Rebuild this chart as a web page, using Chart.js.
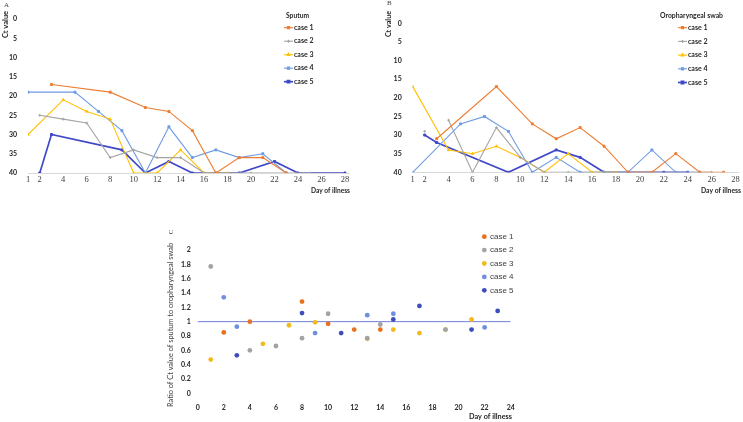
<!DOCTYPE html>
<html>
<head>
<meta charset="utf-8">
<script src="https://cdn.jsdelivr.net/npm/chart.js@4.4.0/dist/chart.umd.min.js"></script>
<style>
  html, body { margin: 0; padding: 0; background: #fff; }
  #wrap { position: relative; width: 743px; height: 422px; overflow: hidden; }
  canvas { position: absolute; left: 0; top: 0; }
</style>
</head>
<body>
<div id="wrap">
  <canvas id="chartA" width="743" height="422"></canvas>
  <canvas id="chartB" width="743" height="422"></canvas>
  <canvas id="chartC" width="743" height="422"></canvas>
</div>
<script>
// ---- data ----
var caseNames = ['case 1', 'case 2', 'case 3', 'case 4', 'case 5'];
var dayTicks = [1, 2, 4, 6, 8, 10, 12, 14, 16, 18, 20, 22, 24, 26, 28];
var ctTicks = [0, 5, 10, 15, 20, 25, 30, 35, 40];
var ratioDayTicks = [0, 2, 4, 6, 8, 10, 12, 14, 16, 18, 20, 22, 24];
var ratioTicks = [0, 0.2, 0.4, 0.6, 0.8, 1, 1.2, 1.4, 1.6, 1.8, 2];

// sputum Ct values
var spDays1 = [3, 8, 11, 13, 15, 17, 19, 21, 23];
var spCt1 = [17, 19, 23, 24, 29, 40, 36, 36, 40];
var spDays2 = [2, 4, 6, 8, 10, 12, 14, 16, 20, 25];
var spCt2 = [25, 26, 27, 36, 34, 36, 36, 40, 40, 40];
var spDays3 = [1, 4, 6, 8, 10, 12, 14, 16, 18];
var spCt3 = [30, 21, 24, 26, 40, 40, 34, 40, 40];
var spDays4 = [1, 5, 7, 9, 11, 13, 15, 17, 19, 21, 23];
var spCt4 = [19, 19, 24, 29, 40, 28, 36, 34, 36, 35, 40];
var spDays5 = [2, 3, 9, 11, 13, 15, 17, 19, 22, 24, 28];
var spCt5 = [40, 30, 34, 40, 37, 40, 40, 40, 37, 40, 40];

// oropharyngeal swab Ct values
var opDays1 = [3, 8, 11, 13, 15, 17, 19, 21, 23, 25, 27];
var opCt1 = [31, 17, 27, 31, 28, 33, 40, 40, 35, 40, 40];
var opDays2 = [2, 3, 4, 6, 8, 10, 12, 14, 20, 26];
var opCt2 = [29, null, 26, 40, 28, 36, 40, 40, 40, 40];
var opDays3 = [1, 4, 6, 8, 10, 12, 14, 16, 18];
var opCt3 = [17, 34, 35, 33, 36, 40, 35, 40, 40];
var opDays4 = [1, 5, 7, 9, 11, 13, 15, 17, 19, 21, 23, 25];
var opCt4 = [40, 27, 25, 29, 40, 36, 40, 40, 40, 34, 40, 40];
var opDays5 = [2, 3, 9, 13, 15, 17, 19, 22, 24];
var opCt5 = [30, 32, 40, 34, 36, 40, 40, 40, 40];

// ratio sputum / oropharyngeal
var rDays1 = [2, 4, 8, 10, 12, 14];
var rVal1 = [0.85, 1.0, 1.28, 0.97, 0.89, 0.89];
var rDays2 = [1, 4, 6, 8, 10, 13, 14, 19];
var rVal2 = [1.77, 0.6, 0.66, 0.77, 1.11, 0.77, 0.96, 0.89];
var rDays3 = [1, 5, 7, 9, 13, 15, 17, 19, 21];
var rVal3 = [0.47, 0.69, 0.95, 0.99, 0.76, 0.89, 0.84, 0.89, 1.03];
var rDays4 = [2, 3, 9, 13, 15, 22];
var rVal4 = [1.34, 0.93, 0.84, 1.09, 1.11, 0.92];
var rDays5 = [3, 8, 11, 15, 17, 21, 23];
var rVal5 = [0.53, 1.12, 0.84, 1.03, 1.22, 0.89, 1.15];
var refDays = [0, 24];
var refVal = [1, 1];

// ---- styles ----
var lineColors = ['#ED7D31', '#A5A5A5', '#FFC000', '#6F9BE3', '#4149C8'];
var dotColors = ['#E8701F', '#A3A3A3', '#F2B91B', '#6F8FE0', '#3F4DBA'];
var markers = ['rect', 'cross', 'triangle', 'rect', 'rect'];
var W = 743, H = 422;

function pts(xs, ys) {
  return xs.map(function (x, i) { return { x: x, y: ys[i] }; });
}

// free text (panel letters, axis titles)
var notesPlugin = {
  id: 'notes',
  afterDraw: function (chart, args, opts) {
    var ctx = chart.ctx;
    (opts.items || []).forEach(function (t) {
      ctx.save();
      ctx.font = t.font;
      ctx.fillStyle = t.color || '#262626';
      ctx.textAlign = t.align || 'left';
      ctx.textBaseline = 'middle';
      ctx.translate(t.x, t.y);
      if (t.rotate) ctx.rotate(t.rotate);
      if (t.maxWidth) ctx.fillText(t.text, 0, 0, t.maxWidth);
      else ctx.fillText(t.text, 0, 0);
      ctx.restore();
    });
  }
};

// legend drawn from the datasets
var caseLegend = {
  id: 'caseLegend',
  afterDraw: function (chart, args, o) {
    if (o.x === undefined) return;
    var ctx = chart.ctx;
    ctx.save();
    ctx.textBaseline = 'middle';
    ctx.textAlign = 'left';
    if (o.title) {
      ctx.font = o.titleFont;
      ctx.fillStyle = '#262626';
      ctx.fillText(o.title, o.titleX, o.titleY, o.titleWidth);
    }
    var n = 0;
    chart.data.datasets.forEach(function (ds) {
      if (!ds.label) return;
      var y = o.y + n * o.gap;
      n++;
      if (o.mode === 'line') {
        ctx.strokeStyle = ds.borderColor;
        ctx.lineWidth = ds.borderWidth;
        ctx.beginPath();
        ctx.moveTo(o.x, y);
        ctx.lineTo(o.x + o.len, y);
        ctx.stroke();
        ctx.fillStyle = ds.backgroundColor;
        Chart.helpers.drawPoint(ctx, { pointStyle: ds.pointStyle, radius: 1.5, borderWidth: 1 }, o.x + o.len / 2, y);
      } else {
        ctx.fillStyle = ds.backgroundColor;
        ctx.beginPath();
        ctx.arc(o.x, y, 2.4, 0, Math.PI * 2);
        ctx.fill();
      }
      ctx.font = o.font;
      ctx.fillStyle = o.color || '#262626';
      ctx.fillText(ds.label, o.textX, y);
    });
    ctx.restore();
  }
};

Chart.register(notesPlugin, caseLegend);
Chart.defaults.font.family = 'Lato, "Liberation Sans", sans-serif';
Chart.defaults.color = '#404040';

function fixedTicks(list) {
  return function (scale) {
    scale.ticks = list.map(function (v) { return { value: v }; });
  };
}

function ctDatasets(dayLists, ctLists) {
  return caseNames.map(function (name, i) {
    return {
      label: name,
      data: pts(dayLists[i], ctLists[i]),
      showLine: true,
      spanGaps: false,
      borderColor: lineColors[i],
      backgroundColor: lineColors[i],
      borderWidth: i === 4 ? 1.7 : 1.1,
      pointStyle: markers[i],
      pointRadius: 1.4,
      pointBorderWidth: 1,
      tension: 0
    };
  });
}

function ctChart(id, datasets, area, xMax, legend, notes) {
  var yw = 28, xh = 30;
  return new Chart(document.getElementById(id), {
    type: 'scatter',
    data: { datasets: datasets },
    options: {
      responsive: false,
      animation: false,
      events: [],
      layout: {
        padding: { left: area.left - yw, top: area.top, right: W - area.right, bottom: H - area.bottom - xh }
      },
      scales: {
        x: {
          type: 'linear', min: 1, max: xMax,
          afterBuildTicks: fixedTicks(dayTicks),
          afterFit: function (s) { s.height = xh; },
          grid: { display: false, drawTicks: false },
          border: { display: true, color: '#D9D9D9', width: 1 },
          ticks: { padding: 2, maxRotation: 0, autoSkip: false, color: '#404040',
            font: { family: '"Liberation Serif", serif', size: 8.5 } }
        },
        y: {
          reverse: true, min: 0, max: 40,
          afterBuildTicks: fixedTicks(ctTicks),
          afterFit: function (s) { s.width = yw; },
          grid: { display: false, drawTicks: false },
          border: { display: false },
          ticks: { padding: 11, color: '#262626', font: { size: 7, weight: 'bold' } }
        }
      },
      plugins: {
        legend: { display: false },
        tooltip: { enabled: false },
        caseLegend: legend,
        notes: { items: notes }
      }
    }
  });
}

ctChart('chartA',
  ctDatasets([spDays1, spDays2, spDays3, spDays4, spDays5], [spCt1, spCt2, spCt3, spCt4, spCt5]),
  { left: 28, right: 348.5, top: 19, bottom: 173 }, 28.3,
  { mode: 'line', x: 284, len: 9, textX: 294, y: 27.7, gap: 13.5, font: 'bold 7px Lato',
    title: 'Sputum', titleFont: 'bold 7px Lato', titleX: 286, titleY: 15.7, titleWidth: 23 },
  [
    { text: 'A', x: 4, y: 5.5, font: '7px "Liberation Serif"', color: '#404040' },
    { text: 'Ct value', x: 5.5, y: 24.5, rotate: -Math.PI / 2, align: 'center', font: 'bold 7.5px Lato', maxWidth: 28 },
    { text: 'Day of illness', x: 311, y: 191, font: 'bold 7px Lato', maxWidth: 39 }
  ]);

ctChart('chartB',
  ctDatasets([opDays1, opDays2, opDays3, opDays4, opDays5], [opCt1, opCt2, opCt3, opCt4, opCt5]),
  { left: 412.7, right: 739.1, top: 23.3, bottom: 172.3 }, 28.2,
  { mode: 'line', x: 678, len: 9, textX: 688, y: 27.7, gap: 13.7, font: 'bold 7px Lato',
    title: 'Oropharyngeal swab', titleFont: 'bold 7px Lato', titleX: 660, titleY: 15.7, titleWidth: 63 },
  [
    { text: 'B', x: 387, y: 3.5, font: '7px "Liberation Serif"', color: '#404040' },
    { text: 'Ct value', x: 389, y: 24, rotate: -Math.PI / 2, align: 'center', font: 'bold 7.5px Lato', maxWidth: 26 },
    { text: 'Day of illness', x: 701, y: 190.7, font: 'bold 7px Lato', maxWidth: 40 }
  ]);

// ---- panel C ----
var ratioDays = [rDays1, rDays2, rDays3, rDays4, rDays5];
var ratioVals = [rVal1, rVal2, rVal3, rVal4, rVal5];
var cSets = caseNames.map(function (name, i) {
  return {
    label: name,
    data: pts(ratioDays[i], ratioVals[i]),
    backgroundColor: dotColors[i],
    borderColor: dotColors[i],
    pointRadius: 2.4,
    pointBorderWidth: 0,
    order: 1
  };
});
cSets.push({
  label: '',
  data: pts(refDays, refVal),
  showLine: true,
  borderColor: '#6F80D8',
  borderWidth: 1,
  pointRadius: 0,
  order: 5
});

var cArea = { left: 197.7, right: 510.7, top: 250, bottom: 393.3 };
var cyw = 40, cxh = 30;
new Chart(document.getElementById('chartC'), {
  type: 'scatter',
  data: { datasets: cSets },
  options: {
    responsive: false,
    animation: false,
    events: [],
    layout: {
      padding: { left: cArea.left - cyw, top: cArea.top, right: W - cArea.right, bottom: H - cArea.bottom - cxh }
    },
    scales: {
      x: {
        type: 'linear', min: 0, max: 24,
        afterBuildTicks: fixedTicks(ratioDayTicks),
        afterFit: function (s) { s.height = cxh; },
        grid: { display: false, drawTicks: false },
        border: { display: false },
        ticks: { padding: 10, maxRotation: 0, autoSkip: false, color: '#262626', font: { size: 7, weight: 'bold' } }
      },
      y: {
        min: 0, max: 2,
        afterBuildTicks: fixedTicks(ratioTicks),
        afterFit: function (s) { s.width = cyw; },
        grid: { display: false, drawTicks: false },
        border: { display: false },
        ticks: { padding: 7, color: '#262626', font: { size: 7, weight: 'bold' },
          callback: function (v) { return String(+v.toFixed(1)); } }
      }
    },
    plugins: {
      legend: { display: false },
      tooltip: { enabled: false },
      caseLegend: { mode: 'dot', x: 484.3, textX: 490, y: 236.7, gap: 13.4, font: '8px "Liberation Sans"', color: '#404040' },
      notes: {
        items: [
          { text: 'C', x: 171, y: 232, rotate: -Math.PI / 2, align: 'center', font: '7px "Liberation Serif"', color: '#404040' },
          { text: 'Ratio of Ct value of sputum to oropharyngeal swab', x: 170.7, y: 325, rotate: -Math.PI / 2,
            align: 'center', font: '7.5px Lato', color: '#404040', maxWidth: 164 },
          { text: 'Day of illness', x: 469, y: 416.7, font: 'bold 7.8px Lato', maxWidth: 43 }
        ]
      }
    }
  }
});
</script>
</body>
</html>
